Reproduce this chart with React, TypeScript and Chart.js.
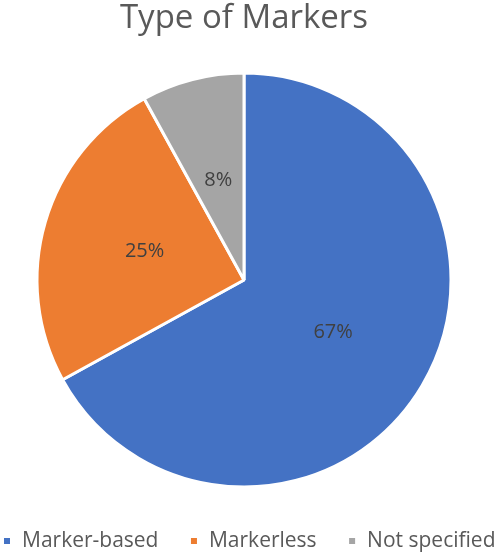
import React, { useEffect, useRef } from "react";
import { Chart, registerables } from "chart.js";

Chart.register(...registerables);

const categories = ["Marker-based", "Markerless", "Not specified"];
const shares = [67, 25, 8];
const sliceColors = ["#4472C4", "#ED7D31", "#A5A5A5"];
const titleText = "Type of Markers";

const sliceLabels = {
  id: "sliceLabels",
  afterDatasetsDraw(chart: any) {
    const ctx = chart.ctx;
    const meta = chart.getDatasetMeta(0);
    const data = chart.data.datasets[0].data as number[];
    const total = data.reduce((a, b) => a + b, 0);
    ctx.save();
    ctx.font = "20px 'Open Sans'";
    ctx.fillStyle = "#404040";
    ctx.textAlign = "center";
    ctx.textBaseline = "middle";
    meta.data.forEach((arc: any, i: number) => {
      const p = arc.getCenterPoint();
      ctx.fillText(Math.round((data[i] / total) * 100) + "%", p.x, p.y);
    });
    ctx.restore();
  },
};

// Pie and title sit 5px left of the legend's centre in the reference.
const shiftBlocks = {
  id: "shiftBlocks",
  afterLayout(chart: any) {
    chart.chartArea.left -= 5;
    chart.chartArea.right -= 5;
    if (chart.titleBlock) {
      chart.titleBlock.left -= 5;
      chart.titleBlock.right -= 5;
    }
  },
};

export default function App() {
  const ref = useRef<HTMLCanvasElement>(null);
  useEffect(() => {
    if (!ref.current) return;
    const chart = new Chart(ref.current, {
      type: "pie",
      data: {
        labels: categories,
        datasets: [
          {
            data: shares,
            backgroundColor: sliceColors,
            borderColor: "#ffffff",
            borderWidth: 3,
            radius: 207,
          },
        ],
      },
      options: {
        responsive: false,
        animation: false,
        layout: { padding: { left: -32, right: -32, top: 0, bottom: -6.5 } },
        plugins: {
          tooltip: { enabled: false },
          title: {
            display: true,
            text: titleText,
            color: "#595959",
            font: { family: "'Open Sans'", size: 33, weight: "normal", lineHeight: 1.2 },
            padding: { top: -1, bottom: 22 },
          },
          legend: {
            position: "bottom",
            labels: {
              boxWidth: 9,
              boxHeight: 9,
              padding: 31,
              color: "#595959",
              font: { family: "'Open Sans'", size: 21 },
            },
          },
        },
      },
      plugins: [sliceLabels, shiftBlocks],
    });
    return () => chart.destroy();
  }, []);
  return (
    <div style={{ position: "absolute", left: 0, top: 0, width: 498, height: 555, background: "#fff" }}>
      <canvas ref={ref} width={498} height={555} />
    </div>
  );
}
